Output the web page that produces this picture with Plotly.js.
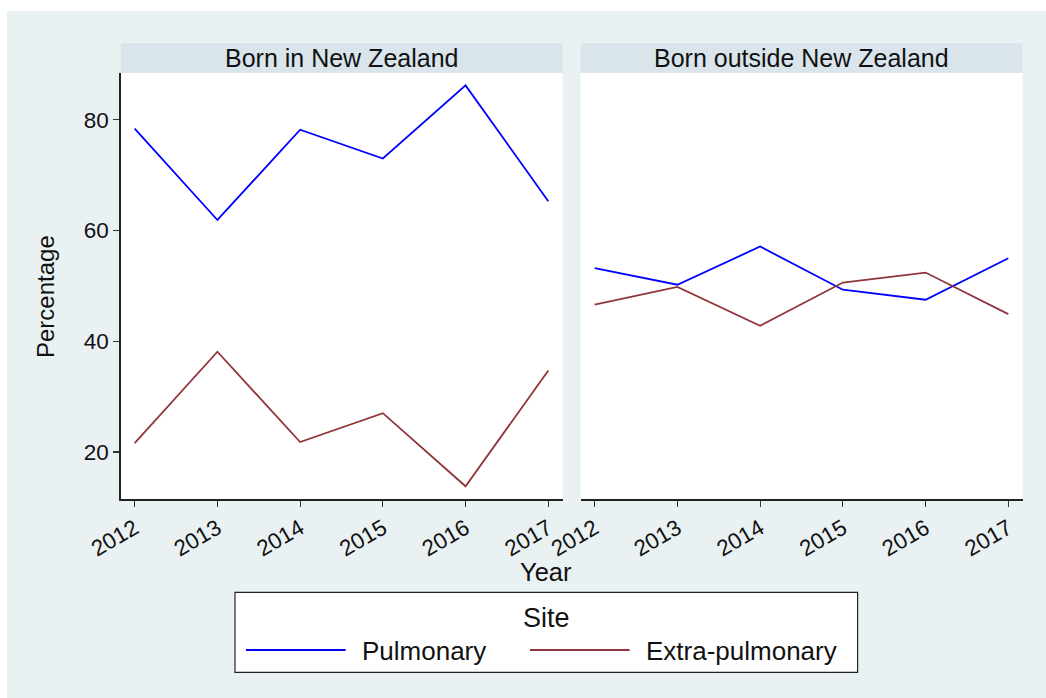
<!DOCTYPE html>
<html>
<head>
<meta charset="utf-8">
<script src="https://cdn.plot.ly/plotly-3.0.1.min.js"></script>
<style>
  html, body { margin: 0; padding: 0; background: #ffffff; }
  #chart { width: 1046px; height: 698px; }
</style>
</head>
<body>
<div id="chart"></div>
<script>
// ---- data ----
var years = [2012, 2013, 2014, 2015, 2016, 2017];
var yearLabels = ["2012", "2013", "2014", "2015", "2016", "2017"];
var panelTitles = ["Born in New Zealand", "Born outside New Zealand"];
var seriesNames = ["Pulmonary", "Extra-pulmonary"];
var pulmonaryNZ = [78.4, 61.9, 78.2, 73.0, 86.2, 65.3];
var extraNZ = [21.6, 38.1, 21.8, 27.0, 13.8, 34.7];
var pulmonaryOS = [53.2, 50.2, 57.1, 49.3, 47.5, 55.0];
var extraOS = [46.6, 49.8, 42.8, 50.6, 52.4, 44.9];
var yTicks = [20, 40, 60, 80];
var yTickLabels = ["20", "40", "60", "80"];

// ---- style ----
var W = 1046, H = 698;
var colPulm = "#0000ff";
var colExtra = "#903539";
var bgOuter = "#eaf1f3";
var bgStrip = "#d9e5eb";
var FONT = "Liberation Sans, Arial, Helvetica, sans-serif";
function px(x) { return x / W; }
function py(y) { return 1 - y / H; }

var plotTop = 72.7, plotBot = 499.3;
var p1 = [120.7, 562.7], p2 = [580.7, 1022.7];
var xr = [2011.831, 2017.174];
var yr = [11.45, 88.5];

var traces = [
  {x: years, y: pulmonaryNZ, xaxis: "x", yaxis: "y", mode: "lines", name: seriesNames[0],
   line: {color: colPulm, width: 1.8}, showlegend: false},
  {x: years, y: extraNZ, xaxis: "x", yaxis: "y", mode: "lines", name: seriesNames[1],
   line: {color: colExtra, width: 1.8}, showlegend: false},
  {x: years, y: pulmonaryOS, xaxis: "x2", yaxis: "y2", mode: "lines", name: seriesNames[0],
   line: {color: colPulm, width: 1.8}, showlegend: false},
  {x: years, y: extraOS, xaxis: "x2", yaxis: "y2", mode: "lines", name: seriesNames[1],
   line: {color: colExtra, width: 1.8}, showlegend: false}
];

function xAxis(dom, anchor) {
  return {
    domain: [px(dom[0]), px(dom[1])], anchor: anchor, range: xr,
    tickmode: "array", tickvals: years, ticktext: yearLabels, tickangle: -30,
    ticks: "outside", ticklen: 6, tickwidth: 1.2, tickcolor: "#333333",
    showline: true, linecolor: "#222222", linewidth: 1.3,
    showgrid: false, zeroline: false, fixedrange: true,
    tickfont: {family: FONT, size: 22.5, color: "#111111"}
  };
}

var layout = {
  width: W, height: H,
  margin: {l: 0, r: 0, t: 0, b: 0, pad: 0},
  paper_bgcolor: "#ffffff",
  plot_bgcolor: "rgba(0,0,0,0)",
  showlegend: false,
  font: {family: FONT, color: "#111111"},
  xaxis: xAxis(p1, "y"),
  xaxis2: xAxis(p2, "y2"),
  yaxis: {
    domain: [py(plotBot), py(plotTop)], anchor: "x", range: yr,
    tickmode: "array", tickvals: yTicks, ticktext: yTickLabels,
    ticks: "outside", ticklen: 6, tickwidth: 1.2, tickcolor: "#333333",
    showline: true, linecolor: "#222222", linewidth: 1.3,
    showgrid: false, zeroline: false, fixedrange: true,
    tickfont: {family: FONT, size: 22.5, color: "#111111"}
  },
  yaxis2: {
    domain: [py(plotBot), py(plotTop)], anchor: "x2", range: yr,
    showticklabels: false, ticks: "", showline: false,
    showgrid: false, zeroline: false, fixedrange: true
  },
  shapes: [
    {type: "rect", xref: "paper", yref: "paper", layer: "below",
     x0: px(7), x1: 1, y0: 0, y1: py(11), fillcolor: bgOuter, line: {width: 0}},
    {type: "rect", xref: "paper", yref: "paper", layer: "below",
     x0: px(p1[0]), x1: px(p1[1]), y0: py(plotBot), y1: py(plotTop), fillcolor: "#ffffff", line: {width: 0}},
    {type: "rect", xref: "paper", yref: "paper", layer: "below",
     x0: px(p2[0]), x1: px(p2[1]), y0: py(plotBot), y1: py(plotTop), fillcolor: "#ffffff", line: {width: 0}},
    {type: "rect", xref: "paper", yref: "paper", layer: "below",
     x0: px(p1[0]), x1: px(p1[1]), y0: py(plotTop), y1: py(43.3), fillcolor: bgStrip, line: {width: 0}},
    {type: "rect", xref: "paper", yref: "paper", layer: "below",
     x0: px(p2[0]), x1: px(p2[1]), y0: py(plotTop), y1: py(43.3), fillcolor: bgStrip, line: {width: 0}},
    // legend box
    {type: "rect", xref: "paper", yref: "paper", layer: "above",
     x0: px(235), x1: px(857.6), y0: py(672.3), y1: py(592.3), fillcolor: "#ffffff",
     line: {color: "#222222", width: 1.2}},
    {type: "line", xref: "paper", yref: "paper", layer: "above",
     x0: px(246), x1: px(345.6), y0: py(650), y1: py(650), line: {color: colPulm, width: 1.8}},
    {type: "line", xref: "paper", yref: "paper", layer: "above",
     x0: px(530), x1: px(629.6), y0: py(650), y1: py(650), line: {color: colExtra, width: 1.8}}
  ],
  annotations: [
    {text: panelTitles[0], xref: "paper", yref: "paper", x: px((p1[0] + p1[1]) / 2), y: py(57.5),
     xanchor: "center", yanchor: "middle", showarrow: false, font: {family: FONT, size: 25, color: "#111111"}},
    {text: panelTitles[1], xref: "paper", yref: "paper", x: px((p2[0] + p2[1]) / 2), y: py(57.5),
     xanchor: "center", yanchor: "middle", showarrow: false, font: {family: FONT, size: 25, color: "#111111"}},
    {text: "Year", xref: "paper", yref: "paper", x: px(546), y: py(572),
     xanchor: "center", yanchor: "middle", showarrow: false, font: {family: FONT, size: 25.5, color: "#111111"}},
    {text: "Percentage", xref: "paper", yref: "paper", x: px(46), y: py(297), textangle: -90,
     xanchor: "center", yanchor: "middle", showarrow: false, font: {family: FONT, size: 24, color: "#111111"}},
    {text: "Site", xref: "paper", yref: "paper", x: px(546), y: py(618),
     xanchor: "center", yanchor: "middle", showarrow: false, font: {family: FONT, size: 27, color: "#111111"}},
    {text: seriesNames[0], xref: "paper", yref: "paper", x: px(360), y: py(651),
     xanchor: "left", yanchor: "middle", showarrow: false, font: {family: FONT, size: 26, color: "#111111"}},
    {text: seriesNames[1], xref: "paper", yref: "paper", x: px(644), y: py(651),
     xanchor: "left", yanchor: "middle", showarrow: false, font: {family: FONT, size: 26, color: "#111111"}}
  ]
};

Plotly.newPlot("chart", traces, layout, {staticPlot: true, displayModeBar: false});
</script>
</body>
</html>
